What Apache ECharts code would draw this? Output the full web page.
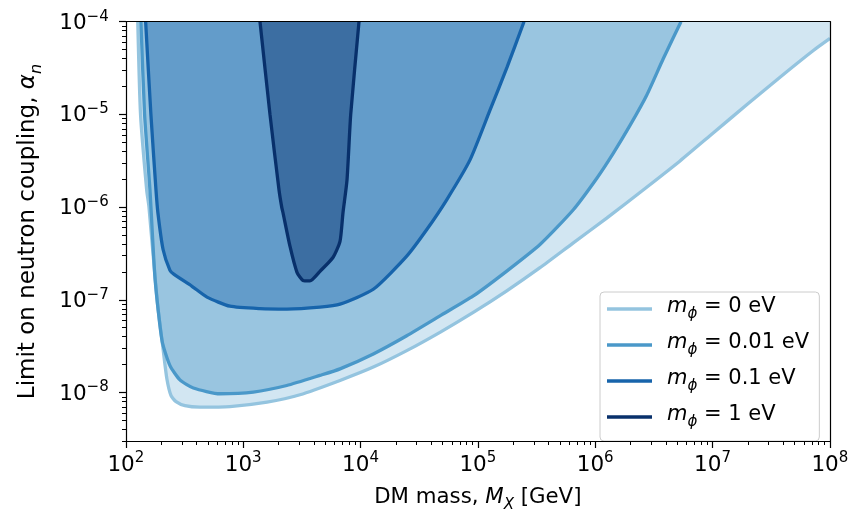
<!DOCTYPE html>
<html><head><meta charset="utf-8">
<script src="https://cdn.jsdelivr.net/npm/echarts@6/dist/echarts.min.js"></script>
<style>html,body{margin:0;padding:0;background:#fff}#c{width:853px;height:518px}</style>
</head><body><div id="c"></div>
<script>
// ---- data ----
const seriesLabels = ['0 eV', '0.01 eV', '0.1 eV', '1 eV'];
const lineColors = ['#94c4df', '#4a98c9', '#1764ab', '#08306b'];

const m0Mass  = [126, 133, 150, 157, 184, 207, 223, 242, 267, 318, 427, 769, 1592, 3041, 6670, 12820, 24700, 47400, 91200, 175800, 337500, 649000, 1.25e6, 2.74e6, 5.27e6, 1.01e7, 1.95e7, 3.75e7, 7.21e7, 1e8];
const m0Alpha = [1e-4, 1e-5, 1.54e-6, 1e-6, 1e-7, 2.95e-8, 1.41e-8, 9.25e-9, 7.97e-9, 7.21e-9, 6.95e-9, 7.05e-9, 7.87e-9, 9.46e-9, 1.35e-8, 1.88e-8, 2.83e-8, 4.46e-8, 7.31e-8, 1.25e-7, 2.22e-7, 4.12e-7, 7.6e-7, 1.64e-6, 3.15e-6, 6.3e-6, 1.27e-5, 2.52e-5, 4.89e-5, 6.6e-5];

const m001Mass  = [134, 144, 160, 177, 203, 237, 288, 375, 631, 1216, 2344, 4500, 6670, 12820, 24700, 47400, 91200, 175800, 337500, 649000, 1.03e6, 1.42e6, 1.98e6, 2.74e6, 3.79e6, 5.37e6];
const m001Alpha = [1e-4, 1e-5, 1.54e-6, 1.66e-7, 3.6e-8, 1.95e-8, 1.37e-8, 1.12e-8, 9.7e-9, 1.01e-8, 1.19e-8, 1.53e-8, 1.80e-8, 2.61e-8, 4.1e-8, 6.71e-8, 1.10e-7, 2.04e-7, 3.95e-7, 9.37e-7, 2.05e-6, 3.8e-6, 7.65e-6, 1.61e-5, 3.98e-5, 1e-4];

const m01Mass  = [147, 163, 180, 187, 207, 237, 257, 365, 490, 769, 1387, 2355, 4500, 6670, 12820, 24700, 36600, 54100, 85500, 126500, 176600, 246600];
const m01Alpha = [1e-4, 1e-5, 1.54e-6, 8.7e-7, 3.49e-7, 2.08e-7, 1.88e-7, 1.40e-7, 1.07e-7, 8.53e-8, 8.03e-8, 7.94e-8, 8.34e-8, 8.98e-8, 1.30e-7, 2.96e-7, 5.73e-7, 1.20e-6, 3.23e-6, 1.11e-5, 3.21e-5, 1e-4];

const m1Mass  = [1387, 1687, 2013, 2124, 2178, 2500, 2866, 3226, 3700, 4500, 5807, 6665, 7068, 7650, 8225, 9680];
const m1Alpha = [1e-4, 1e-5, 1.54e-6, 1e-6, 8.7e-7, 3.76e-7, 1.98e-7, 1.62e-7, 1.60e-7, 2.03e-7, 2.86e-7, 4.26e-7, 8.7e-7, 1.97e-6, 1e-5, 1e-4];

const curveMass  = [m0Mass, m001Mass, m01Mass, m1Mass];
const curveAlpha = [m0Alpha, m001Alpha, m01Alpha, m1Alpha];

const xMajorTicks = [1e2, 1e3, 1e4, 1e5, 1e6, 1e7, 1e8];
const yMajorTicks = [1e-8, 1e-7, 1e-6, 1e-5, 1e-4];
const xRange = [1e2, 1e8];
const yRange = [3e-9, 1e-4];
const minorMultipliers = [2, 3, 4, 5, 6, 7, 8, 9];

// ---- build ----
function minorTicks(range) {
  const out = [];
  const lo = Math.floor(Math.log10(range[0])), hi = Math.ceil(Math.log10(range[1]));
  for (let e = lo; e < hi; e++) {
    minorMultipliers.forEach(m => {
      const v = m * Math.pow(10, e);
      if (v >= range[0] * 0.999 && v <= range[1] * 1.001) out.push(v);
    });
  }
  return out;
}
const FONT = 'DejaVu Sans';
const tickRich = {
  b: {fontFamily: FONT, fontSize: 21.5, lineHeight: 21, verticalAlign: 'bottom', color: '#000'},
  sup: {fontFamily: FONT, fontSize: 15, lineHeight: 15, verticalAlign: 'top', color: '#000'},
  sp: {fontFamily: FONT, fontSize: 1, lineHeight: 25}
};
function powLabel(v) {
  const e = Math.round(Math.log10(v));
  return '{b|10}{sup|' + (e < 0 ? '\u2212' : '') + Math.abs(e) + '}{sp| }';
}
function makeNameRich(fs) {
  const sfs = Math.round(fs * 0.7);
  return {
    t: {fontFamily: FONT, fontSize: fs, lineHeight: fs, verticalAlign: 'top', color: '#000'},
    it: {fontFamily: FONT, fontSize: fs, lineHeight: fs, verticalAlign: 'top', fontStyle: 'italic', color: '#000'},
    sub: {fontFamily: FONT, fontSize: sfs, lineHeight: sfs, verticalAlign: 'bottom', fontStyle: 'italic', color: '#000'},
    sp: {fontFamily: FONT, fontSize: 1, lineHeight: Math.round(fs * 1.22)},
    gap: {width: 10, fontSize: 1}
  };
}
const axisLineStyle = {color: '#000', width: 1.2};

function baseAxis(range) {
  return {type: 'log', logBase: 10, min: range[0], max: range[1], z: 10,
    splitLine: {show: false}, axisLabel: {show: false}, axisTick: {show: false}, axisLine: {show: false}};
}
const xAxes = [
  Object.assign(baseAxis(xRange), {
    position: 'bottom',
    axisLine: {show: true, onZero: false, lineStyle: axisLineStyle},
    axisTick: {show: true, customValues: xMajorTicks, length: 7, lineStyle: axisLineStyle},
    axisLabel: {show: true, customValues: xMajorTicks, margin: 10, formatter: powLabel, rich: tickRich},
    name: '{t|DM mass, }{it|M}{sub|X}{t| [GeV]}{sp| }', nameLocation: 'middle', nameGap: 46,
    nameTextStyle: {rich: makeNameRich(21.3)}
  }),
  Object.assign(baseAxis(xRange), {
    position: 'bottom',
    axisTick: {show: true, customValues: minorTicks(xRange), length: 4, lineStyle: {color: '#000', width: 1}}
  }),
  Object.assign(baseAxis(xRange), {
    position: 'top', axisLine: {show: true, onZero: false, lineStyle: axisLineStyle}
  })
];
const yAxes = [
  Object.assign(baseAxis(yRange), {
    position: 'left',
    axisLine: {show: true, onZero: false, lineStyle: axisLineStyle},
    axisTick: {show: true, customValues: yMajorTicks, length: 7, lineStyle: axisLineStyle},
    axisLabel: {show: true, customValues: yMajorTicks, margin: 17, formatter: powLabel, rich: tickRich},
    name: '{t|Limit on neutron coupling, }{it|\u03b1}{sub|n}{sp| }', nameLocation: 'middle', nameGap: 81,
    nameRotate: 90, nameTextStyle: {rich: makeNameRich(23)}
  }),
  Object.assign(baseAxis(yRange), {
    position: 'left',
    axisTick: {show: true, customValues: minorTicks(yRange), length: 4, lineStyle: {color: '#000', width: 1}}
  }),
  Object.assign(baseAxis(yRange), {
    position: 'right', axisLine: {show: true, onZero: false, lineStyle: axisLineStyle}
  })
];

const series = seriesLabels.map((label, i) => ({
  type: 'line', name: label, xAxisIndex: 0, yAxisIndex: 0,
  data: curveMass[i].map((m, j) => [m, curveAlpha[i][j]]),
  showSymbol: false, symbol: 'none', silent: true, z: 2 + i,
  smooth: 0.2,
  lineStyle: {color: lineColors[i], width: 3.3},
  itemStyle: {color: lineColors[i]},
  areaStyle: {color: lineColors[i], opacity: 0.42, origin: 'end'}
}));

const chart = echarts.init(document.getElementById('c'), null, {renderer: 'canvas'});
chart.setOption({
  animation: false,
  backgroundColor: '#fff',
  grid: {left: 126, right: 23, top: 21.7, bottom: 75.3, containLabel: false},
  xAxis: xAxes,
  yAxis: yAxes,
  legend: {
    orient: 'vertical', left: 600, top: 292, padding: [4, 10, 11, 7],
    itemWidth: 45, itemHeight: 3.5, itemGap: 10, icon: 'rect',
    backgroundColor: 'rgba(255,255,255,0.8)', borderColor: '#cccccc', borderWidth: 1, borderRadius: 4,
    data: seriesLabels.map((l, i) => ({name: l, icon: 'rect', itemStyle: {color: lineColors[i], borderWidth: 0}})),
    formatter: name => '{gap| }{it|m}{sub|\u03d5}{t| = ' + name + '}{sp| }',
    textStyle: {rich: makeNameRich(21)}
  },
  series: series
});
</script></body></html>
